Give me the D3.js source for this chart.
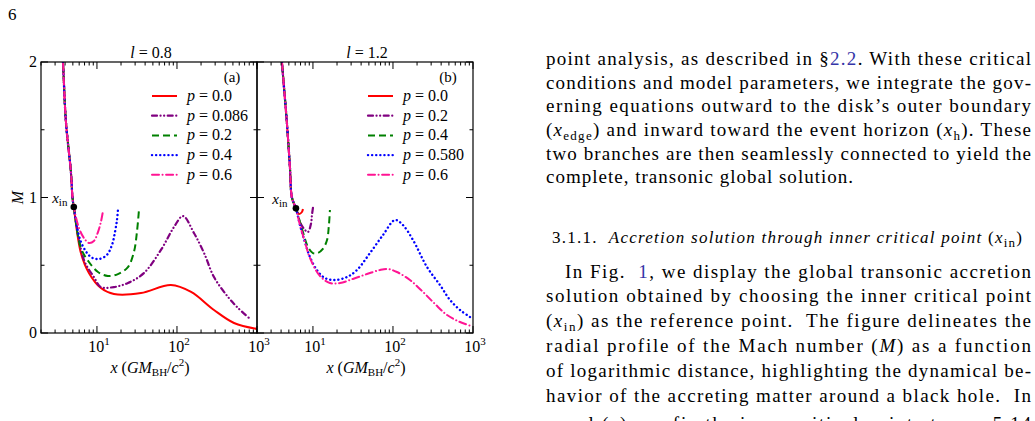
<!DOCTYPE html>
<html>
<head>
<meta charset="utf-8">
<script src="https://cdn.jsdelivr.net/npm/d3@7"></script>
<style>
  body { margin: 0; background: #fff; }
  text { font-family: "Liberation Serif", "Times New Roman", serif; fill: #000; }
</style>
</head>
<body>
<svg width="1035" height="421"></svg>
<script>
// ---- chart values ----
var xTickValues = [10, 100, 1000];
var yTickValues = [0, 1, 2];
var legendA = ["0.0", "0.086", "0.2", "0.4", "0.6"];
var legendB = ["0.0", "0.2", "0.4", "0.580", "0.6"];
var xinA = [5.14, 0.93];
var xinB = [6.13, 0.92];

// supersonic branch coming in from the horizon side, down to x_in
var upperA = [[3.5, 2.3], [3.76, 2.0], [4.10, 1.557], [4.73, 1.188], [4.95, 1.0], [5.14, 0.93]];
var upperB = [[3.8, 2.3], [4.10, 2.0], [4.73, 1.55], [5.16, 1.225], [5.46, 1.0], [6.13, 0.92]];

// panel (a), l = 0.8
var a_p0 = [[6.31, 0.59], [7.94, 0.443], [11.2, 0.332], [16.3, 0.288], [35.5, 0.295], [84.1, 0.354],
  [150, 0.303], [290, 0.17], [516, 0.074], [1000, 0.03]];
var a_p0086 = [[6.88, 0.539], [9.17, 0.413], [11.2, 0.339], [16.3, 0.339], [24.4, 0.369], [38.7, 0.443],
  [63.1, 0.613], [91.7, 0.782], [119, 0.863], [163, 0.738], [218, 0.59], [290, 0.413], [434, 0.266],
  [579, 0.185], [794, 0.111]];
var a_p02 = [[6.31, 0.627], [7.94, 0.524], [10.3, 0.45], [13.7, 0.421], [18.3, 0.435], [24.4, 0.487],
  [29.0, 0.598], [31.6, 0.745], [33.5, 0.908]];
var a_p04 = [[6.31, 0.672], [8.41, 0.561], [10.6, 0.546], [13.3, 0.576], [15.4, 0.649], [16.8, 0.745],
  [17.8, 0.834], [18.3, 0.908]];
var a_p06 = [[5.96, 0.775], [6.88, 0.701], [7.94, 0.664], [9.17, 0.679], [10.3, 0.745], [11.2, 0.819],
  [11.9, 0.9]];

// panel (b), l = 1.2
var b_p0 = [[6.68, 0.878], [7.29, 0.893], [7.50, 0.915]];
var b_p02 = [[6.88, 0.819], [7.94, 0.76], [8.66, 0.745], [9.44, 0.804], [9.72, 0.871], [10.0, 0.923]];
var b_p04 = [[7.50, 0.745], [8.66, 0.635], [10.0, 0.59], [11.5, 0.59], [13.3, 0.62], [15.0, 0.686],
  [15.8, 0.79], [16.3, 0.908]];
var b_p058 = [[6.88, 0.797], [7.94, 0.672], [9.17, 0.561], [11.2, 0.465], [14.1, 0.406], [18.8, 0.391],
  [26.6, 0.413], [35.5, 0.465], [51.6, 0.59], [75, 0.723], [106, 0.834], [133, 0.797], [178, 0.686],
  [266, 0.487], [387, 0.354], [516, 0.244], [688, 0.17], [917, 0.118]];
var b_p06 = [[6.88, 0.797], [7.94, 0.672], [9.17, 0.554], [12.2, 0.421], [16.3, 0.369], [21.8, 0.369],
  [31.6, 0.399], [47.3, 0.435], [68.8, 0.465], [86.6, 0.472], [112, 0.45], [163, 0.391], [237, 0.303],
  [335, 0.214], [473, 0.133], [688, 0.081], [944, 0.052]];

(function () {
  // ---- styles ----
  var colors = ["#ff0000", "#800080", "#008000", "#0000ff", "#ff1493"];
  var dashes = [null, "5,3.5,0.1,3.5,0.1,3.5", "7,4", "0.1,4", "7,3.5,0.1,3.5"];
  var caps = ["butt", "round", "butt", "round", "round"];
  var widths = [2, 2.2, 2, 2.4, 2];

  var svg = d3.select("svg");
  svg.append("rect").attr("width", 1035).attr("height", 421).attr("fill", "#fff");

  var W = 216;
  var plotTop = 62;
  var plotBot = 333;
  var x = d3.scaleLog().domain([2, 1000]).range([0, W]);
  var y = d3.scaleLinear().domain([0, 2]).range([plotBot, plotTop]);

  svg.append("defs").append("clipPath").attr("id", "plotclip")
    .append("rect").attr("x", 0).attr("y", plotTop).attr("width", W).attr("height", plotBot - plotTop);

  var line = d3.line()
    .x(function (d) { return x(d[0]); })
    .y(function (d) { return y(d[1]); })
    .curve(d3.curveCatmullRom.alpha(0.5));

  function drawPanel(left, series, upper, legend, tag, xin, title, showY, xinOff) {
    var g = svg.append("g").attr("transform", "translate(" + left + ",0)");

    // curves
    var cg = g.append("g").attr("clip-path", "url(#plotclip)");
    series.forEach(function (s, i) {
      cg.append("path")
        .attr("d", line(upper.concat(s)))
        .attr("fill", "none")
        .attr("stroke", colors[i])
        .attr("stroke-width", widths[i])
        .attr("stroke-linecap", caps[i])
        .attr("stroke-dasharray", dashes[i]);
    });

    // frame
    g.append("rect").attr("x", 0).attr("y", plotTop).attr("width", W).attr("height", plotBot - plotTop)
      .attr("fill", "none").attr("stroke", "#000").attr("stroke-width", 1.2);

    // x ticks (top and bottom, inward)
    x.ticks().forEach(function (t) {
      var lg = Math.log10(t);
      var major = Math.abs(lg - Math.round(lg)) < 1e-9;
      var len = major ? 7 : 3.5;
      var px = x(t);
      g.append("line").attr("x1", px).attr("x2", px).attr("y1", plotBot).attr("y2", plotBot - len)
        .attr("stroke", "#000").attr("stroke-width", 1);
      g.append("line").attr("x1", px).attr("x2", px).attr("y1", plotTop).attr("y2", plotTop + len)
        .attr("stroke", "#000").attr("stroke-width", 1);
    });
    // y ticks (left and right, inward)
    [0, 0.5, 1, 1.5, 2].forEach(function (t) {
      var len = (t % 1 === 0) ? 7 : 3.5;
      g.append("line").attr("x1", 0).attr("x2", len).attr("y1", y(t)).attr("y2", y(t))
        .attr("stroke", "#000").attr("stroke-width", 1);
      g.append("line").attr("x1", W).attr("x2", W - len).attr("y1", y(t)).attr("y2", y(t))
        .attr("stroke", "#000").attr("stroke-width", 1);
    });

    // x tick labels 10^n
    xTickValues.forEach(function (t) {
      var tx = g.append("text").attr("x", x(t) + 2).attr("y", 352).attr("text-anchor", "middle")
        .style("font-size", "16px");
      tx.append("tspan").text("10");
      tx.append("tspan").attr("dy", -7).style("font-size", "11px").text(Math.round(Math.log10(t)));
    });

    // y tick labels
    if (showY) {
      yTickValues.forEach(function (t) {
        g.append("text").attr("x", -4).attr("y", y(t) + 5).attr("text-anchor", "end")
          .style("font-size", "16px").text(t);
      });
      g.append("text").attr("transform", "translate(-18," + y(1) + ") rotate(-90)")
        .attr("text-anchor", "middle").style("font-size", "16px").style("font-style", "italic").text("M");
    }

    // x axis title
    var at = g.append("text").attr("x", W / 2 + 1).attr("y", 373).attr("text-anchor", "middle")
      .style("font-size", "16px");
    at.append("tspan").style("font-style", "italic").text("x");
    at.append("tspan").text(" (");
    at.append("tspan").style("font-style", "italic").text("GM");
    at.append("tspan").attr("dy", 3).style("font-size", "11px").text("BH");
    at.append("tspan").attr("dy", -3).text("/");
    at.append("tspan").style("font-style", "italic").text("c");
    at.append("tspan").attr("dy", -7).style("font-size", "11px").text("2");
    at.append("tspan").attr("dy", 7).text(")");

    // panel title
    var tt = g.append("text").attr("x", W / 2 + 2).attr("y", 58).attr("text-anchor", "middle")
      .style("font-size", "16px").attr("xml:space", "preserve");
    tt.append("tspan").style("font-style", "italic").text("l");
    tt.append("tspan").text(" = " + title);

    // panel tag
    g.append("text").attr("x", W - 25).attr("y", 82).attr("text-anchor", "middle")
      .style("font-size", "15px").text(tag);

    // legend
    legend.forEach(function (lab, i) {
      var ly = 96 + i * 19.7;
      g.append("line").attr("x1", 111).attr("x2", 136).attr("y1", ly).attr("y2", ly)
        .attr("stroke", colors[i]).attr("stroke-width", widths[i])
        .attr("stroke-linecap", caps[i]).attr("stroke-dasharray", dashes[i]);
      var lt = g.append("text").attr("x", 146).attr("y", ly + 5).style("font-size", "16px")
        .attr("xml:space", "preserve");
      lt.append("tspan").style("font-style", "italic").text("p");
      lt.append("tspan").text(" = " + lab);
    });

    // critical point
    g.append("circle").attr("cx", x(xin[0])).attr("cy", y(xin[1])).attr("r", 3.3).attr("fill", "#000");
    var xl = g.append("text").attr("x", x(xin[0]) - xinOff).attr("y", y(xin[1]) - 4)
      .attr("text-anchor", "middle").style("font-size", "15px");
    xl.append("tspan").style("font-style", "italic").text("x");
    xl.append("tspan").attr("dy", 3).style("font-size", "11px").text("in");
  }

  drawPanel(41, [a_p0, a_p0086, a_p02, a_p04, a_p06], upperA, legendA, "(a)", xinA, "0.8", true, 14);
  drawPanel(257, [b_p0, b_p02, b_p04, b_p058, b_p06], upperB, legendB, "(b)", xinB, "1.2", false, 16);

  // page number
  svg.append("text").attr("x", 8).attr("y", 20).style("font-size", "17px").text("6");

  // ---- body text on the right ----
  var link = "#3535a8";
  function textLine(xx, yy, width, segs, size) {
    var t = svg.append("text").attr("x", xx).attr("y", yy).style("font-size", (size || 19) + "px")
      .attr("xml:space", "preserve");
    if (width) t.attr("textLength", width).attr("lengthAdjust", "spacing");
    var shift = 0;
    segs.forEach(function (s) {
      var sp = t.append("tspan").text(s[0]);
      var k = s[1] || "";
      var want = 0;
      if (k.indexOf("i") >= 0) sp.style("font-style", "italic");
      if (k.indexOf("b") >= 0) sp.style("fill", link);
      if (k.indexOf("s") >= 0) { sp.style("font-size", "13px"); want = 4; }
      if (want !== shift) { sp.attr("dy", want - shift); shift = want; }
    });
  }

  var L = 546, R = 1031, TW = R - L;
  textLine(L, 65, TW, [["point analysis, as described in §"], ["2.2", "b"], [". With these critical"]]);
  textLine(L, 89, TW, [["conditions and model parameters, we integrate the gov-"]]);
  textLine(L, 112, TW, [["erning equations outward to the disk\u2019s outer boundary"]]);
  textLine(L, 136, TW, [["("], ["x", "i"], ["edge", "s"], [") and inward toward the event horizon ("], ["x", "i"], ["h", "s"], ["). These"]]);
  textLine(L, 160, TW, [["two branches are then seamlessly connected to yield the"]]);
  textLine(L, 183, 307, [["complete, transonic global solution."]]);

  textLine(552, 243, 470, [["3.1.1.  "], ["Accretion solution through inner critical point", "i"], [" ("], ["x", "i"], ["in", "s"], [")"]], 17);

  textLine(565, 278, R - 565, [["In Fig.  "], ["1", "b"], [", we display the global transonic accretion"]]);
  textLine(L, 302, TW, [["solution obtained by choosing the inner critical point"]]);
  textLine(L, 327, TW, [["("], ["x", "i"], ["in", "s"], [") as the reference point.  The figure delineates the"]]);
  textLine(L, 352, TW, [["radial profile of the Mach number ("], ["M", "i"], [") as a function"]]);
  textLine(L, 377, TW, [["of logarithmic distance, highlighting the dynamical be-"]]);
  textLine(L, 402, TW, [["havior of the accreting matter around a black hole.  In"]]);
  textLine(L, 430, TW, [["panel (a), we fix the inner critical point at "], ["x", "i"], ["in", "s"], [" = 5.14"]]);
})();
</script>
</body>
</html>
